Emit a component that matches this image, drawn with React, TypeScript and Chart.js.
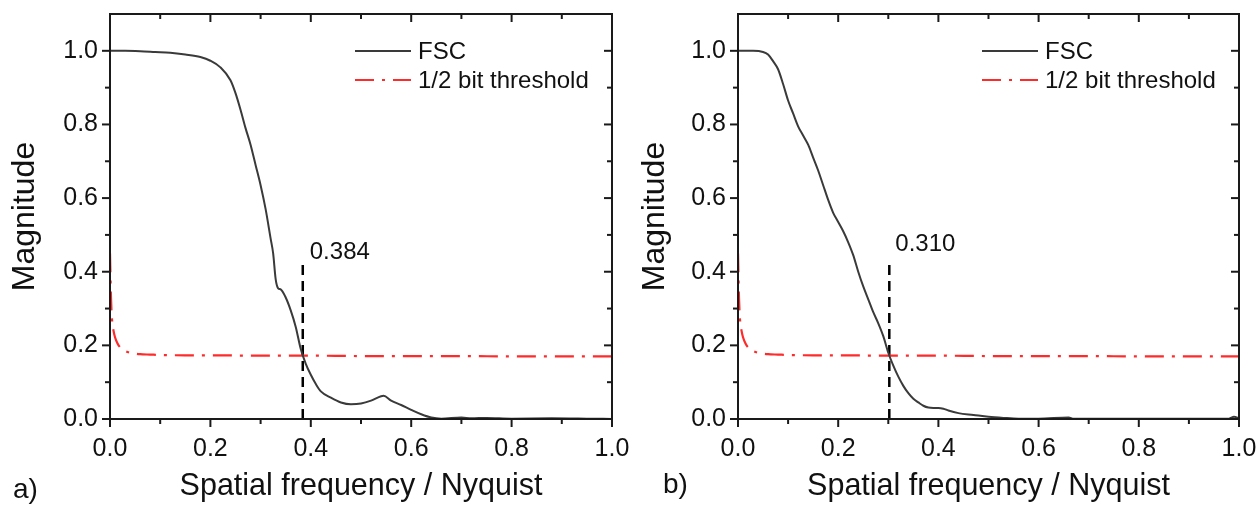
import React, { useEffect, useRef } from 'react';
import { Chart, registerables } from 'chart.js';

Chart.register(...registerables);

const FONT = '"Liberation Sans", Arial, Helvetica, sans-serif';

// ---- data ----
const fscAX = [0, 0.03, 0.06, 0.09, 0.12, 0.15, 0.18, 0.2, 0.22, 0.24, 0.25, 0.26, 0.27, 0.28, 0.29, 0.3, 0.31, 0.32, 0.325, 0.33, 0.335, 0.34, 0.35, 0.36, 0.37, 0.38, 0.39, 0.4, 0.41, 0.42, 0.44, 0.46, 0.48, 0.5, 0.52, 0.54, 0.545, 0.56, 0.58, 0.6, 0.62, 0.64, 0.66, 0.7, 0.72, 0.75, 0.8, 0.88, 0.95, 1.0];
const fscAY = [1.0, 1.0, 0.999, 0.997, 0.995, 0.99, 0.983, 0.973, 0.955, 0.92, 0.885, 0.84, 0.79, 0.745, 0.69, 0.635, 0.57, 0.49, 0.45, 0.38, 0.355, 0.352, 0.33, 0.295, 0.25, 0.19, 0.15, 0.12, 0.095, 0.075, 0.058, 0.045, 0.04, 0.042, 0.05, 0.062, 0.063, 0.05, 0.038, 0.025, 0.013, 0.004, 0.001, 0.004, 0.002, 0.003, 0.001, 0.002, 0.001, 0.0];

const fscBX = [0, 0.03, 0.05, 0.06, 0.07, 0.08, 0.09, 0.1, 0.11, 0.12, 0.13, 0.14, 0.15, 0.16, 0.17, 0.18, 0.19, 0.2, 0.21, 0.22, 0.23, 0.24, 0.25, 0.26, 0.27, 0.28, 0.29, 0.3, 0.31, 0.32, 0.33, 0.34, 0.35, 0.36, 0.37, 0.38, 0.39, 0.4, 0.41, 0.42, 0.44, 0.47, 0.5, 0.53, 0.56, 0.6, 0.66, 0.67, 0.8, 0.9, 0.98, 0.99, 1.0];
const fscBY = [1.0, 1.0, 0.997, 0.99, 0.972, 0.95, 0.91, 0.865, 0.83, 0.795, 0.77, 0.745, 0.71, 0.675, 0.635, 0.595, 0.56, 0.535, 0.51, 0.48, 0.445, 0.4, 0.36, 0.325, 0.29, 0.26, 0.225, 0.18, 0.145, 0.115, 0.09, 0.07, 0.055, 0.045, 0.036, 0.031, 0.03, 0.03, 0.028, 0.023, 0.016, 0.011, 0.006, 0.003, 0.001, 0.001, 0.004, 0.001, 0.001, 0.001, 0.001, 0.006, 0.002];

const thrX = [0, 0.002, 0.004, 0.007, 0.01, 0.015, 0.02, 0.03, 0.04, 0.06, 0.08, 0.1, 0.15, 0.2, 0.3, 0.4, 0.5, 0.6, 0.7, 0.8, 0.9, 1.0];
const thrY = [0.45, 0.33, 0.27, 0.24, 0.222, 0.205, 0.195, 0.185, 0.18, 0.176, 0.175, 0.174, 0.173, 0.173, 0.172, 0.172, 0.171, 0.171, 0.171, 0.17, 0.17, 0.17];

const cutoffA = 0.384;
const cutoffB = 0.302;
const cutoffTop = 0.428;
const cutoffTextA = '0.384';
const cutoffTextB = '0.310';

const seriesLabels = ['FSC', '1/2 bit threshold'];
const panelLabels = ['a)', 'b)'];
const xTitle = 'Spatial frequency / Nyquist';
const yTitle = 'Magnitude';

const FSC_COLOR = '#3a3a3a';
const THR_COLOR = '#ff2a2a';
const THR_DASH = [19, 8, 3, 8];

const toPts = (xs: number[], ys: number[]) => xs.map((x, i) => ({ x, y: ys[i] }));

const decorPlugin = {
  id: 'decor',
  afterDraw(chart: any, _args: any, opts: any) {
    const { ctx, chartArea: ca, scales } = chart;
    const xs = scales.x;
    const ys = scales.y;
    ctx.save();
    ctx.strokeStyle = '#1a1a1a';
    ctx.lineWidth = 2;
    ctx.setLineDash([]);
    ctx.strokeRect(ca.left, ca.top, ca.right - ca.left, ca.bottom - ca.top);
    const seg = (x1: number, y1: number, x2: number, y2: number) => {
      ctx.beginPath();
      ctx.moveTo(x1, y1);
      ctx.lineTo(x2, y2);
      ctx.stroke();
    };
    xs.ticks.forEach((t: any) => {
      const px = xs.getPixelForValue(t.value);
      const len = Math.round(t.value * 10) % 2 === 0 ? 8 : 5;
      seg(px, ca.bottom, px, ca.bottom + len);
      seg(px, ca.top, px, ca.top + len);
    });
    ys.ticks.forEach((t: any) => {
      if (t.value > 1.05) return;
      const py = ys.getPixelForValue(t.value);
      const len = Math.round(t.value * 10) % 2 === 0 ? 8 : 5;
      seg(ca.left - len, py, ca.left, py);
      seg(ca.right - len, py, ca.right, py);
    });

    // legend
    const ds = chart.data.datasets;
    ctx.font = `24px ${FONT}`;
    ctx.textBaseline = 'middle';
    ctx.textAlign = 'left';
    for (let i = 0; i < 2; i++) {
      const y = ca.top + 37 + i * 29;
      const x0 = ca.right - 257;
      const x1 = x0 + 56;
      ctx.strokeStyle = ds[i].borderColor;
      ctx.lineWidth = 2;
      ctx.setLineDash(ds[i].borderDash || []);
      seg(x0, y, x1, y);
      ctx.setLineDash([]);
      ctx.fillStyle = '#111';
      ctx.fillText(ds[i].label, x1 + 7, y + 1);
    }

    // cutoff annotation
    const cx = xs.getPixelForValue(opts.cutoff);
    const cy = ys.getPixelForValue(cutoffTop);
    ctx.font = `24px ${FONT}`;
    ctx.textBaseline = 'alphabetic';
    ctx.fillStyle = '#111';
    ctx.fillText(opts.cutoffText, cx + opts.textDx, cy + opts.textDy);

    // panel label
    ctx.font = `28px ${FONT}`;
    ctx.fillText(opts.panel, opts.panelX, opts.panelY);
    ctx.restore();
  },
};

function makeConfig(fx: number[], fy: number[], cutoff: number, cutoffText: string, panel: string, yWidth: number, rightPad: number, textDy: number, textDx: number, panelX: number, panelY: number): any {
  return {
    type: 'line',
    data: {
      datasets: [
        {
          label: seriesLabels[0],
          data: toPts(fx, fy),
          borderColor: FSC_COLOR,
          borderWidth: 2,
          pointRadius: 0,
          cubicInterpolationMode: 'monotone',
          fill: false,
        },
        {
          label: seriesLabels[1],
          data: toPts(thrX, thrY),
          borderColor: THR_COLOR,
          borderWidth: 2.2,
          borderDash: THR_DASH,
          pointRadius: 0,
          cubicInterpolationMode: 'monotone',
          fill: false,
        },
        {
          label: 'cutoff',
          data: [{ x: cutoff, y: 0 }, { x: cutoff, y: cutoffTop }],
          borderColor: '#000',
          borderWidth: 2.5,
          borderDash: [10, 6],
          pointRadius: 0,
          fill: false,
        },
      ],
    },
    options: {
      responsive: false,
      animation: false,
      events: [],
      layout: { padding: { top: 14, right: rightPad, left: 0, bottom: 0 } },
      plugins: {
        legend: { display: false },
        tooltip: { enabled: false },
        decor: { cutoff, cutoffText, panel, textDy, textDx, panelX, panelY },
      },
      scales: {
        x: {
          type: 'linear',
          min: 0,
          max: 1,
          grid: { display: false, drawTicks: false, tickLength: 0 },
          border: { display: false },
          ticks: {
            stepSize: 0.1,
            autoSkip: false,
            maxRotation: 0,
            padding: 15,
            color: '#111',
            font: { family: FONT, size: 25 },
            callback: (v: number) => (Math.round(v * 10) % 2 === 0 ? v.toFixed(1) : ''),
          },
          title: {
            display: true,
            text: xTitle,
            color: '#111',
            font: { family: FONT, size: 30.5 },
            padding: { top: 0, bottom: 0 },
          },
          afterFit: (s: any) => {
            s.height = 86;
            s.paddingLeft = 0;
            s.paddingRight = 0;
          },
        },
        y: {
          type: 'linear',
          min: 0,
          max: 1.1,
          grid: { display: false, drawTicks: false, tickLength: 0 },
          border: { display: false },
          ticks: {
            stepSize: 0.1,
            autoSkip: false,
            padding: 12,
            color: '#111',
            font: { family: FONT, size: 25 },
            callback: (v: number) => {
              const k = Math.round(v * 10);
              return k % 2 === 0 && k <= 10 ? v.toFixed(1) : '';
            },
          },
          title: {
            display: true,
            text: yTitle,
            color: '#111',
            font: { family: FONT, size: 32 },
            padding: { top: 6, bottom: 0 },
          },
          afterFit: (s: any) => {
            s.width = yWidth;
            s.paddingTop = 0;
            s.paddingBottom = 0;
          },
        },
      },
    },
    plugins: [decorPlugin],
  };
}

function Panel(props: { cfg: () => any; left: number }) {
  const ref = useRef<HTMLCanvasElement | null>(null);
  useEffect(() => {
    if (!ref.current) return;
    const chart = new Chart(ref.current, props.cfg());
    return () => chart.destroy();
  }, []);
  return (
    <div style={{ position: 'absolute', left: props.left, top: 0, width: 630, height: 505 }}>
      <canvas ref={ref} width={630} height={505} style={{ width: 630, height: 505, display: 'block' }} />
    </div>
  );
}

export default function App() {
  return (
    <div style={{ position: 'fixed', left: 0, top: 0, width: 1260, height: 505, background: '#fff', overflow: 'hidden' }}>
      <Panel left={0} cfg={() => makeConfig(fscAX, fscAY, cutoffA, cutoffTextA, panelLabels[0], 110, 18, -2, 7, 13, 498)} />
      <Panel left={630} cfg={() => makeConfig(fscBX, fscBY, cutoffB, cutoffTextB, panelLabels[1], 108, 21, -10, 6, 33, 493)} />
    </div>
  );
}
